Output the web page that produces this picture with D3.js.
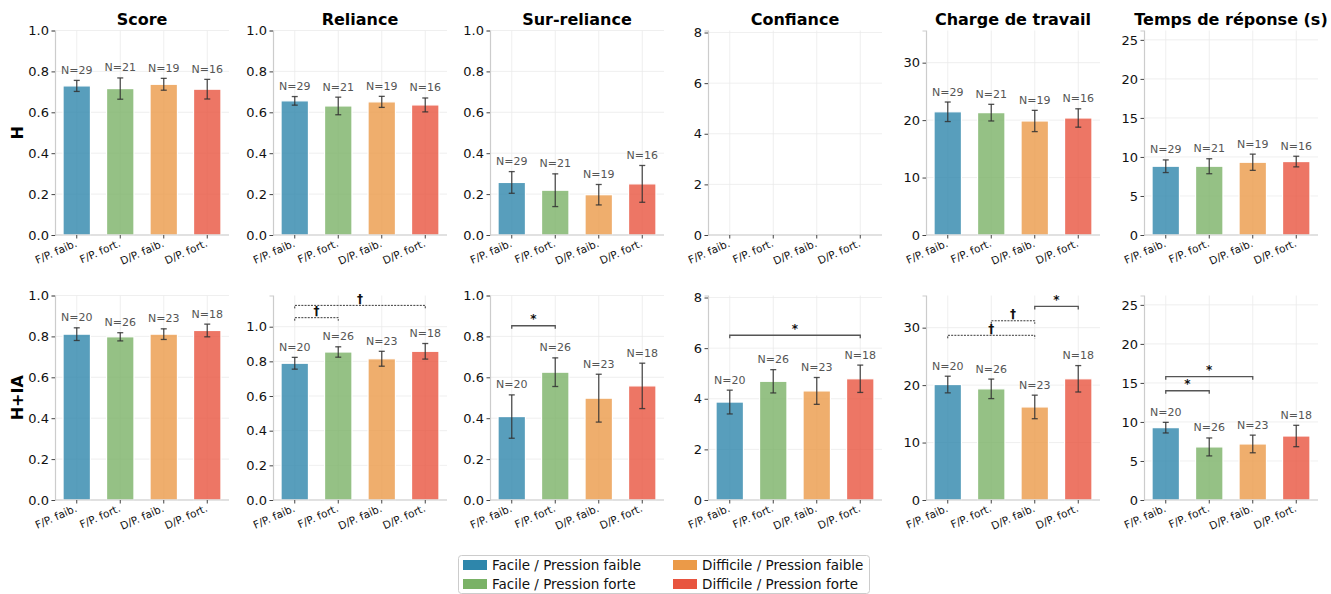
<!DOCTYPE html>
<html><head><meta charset="utf-8">
<script src="https://cdn.jsdelivr.net/npm/d3@7"></script>
<style>body{margin:0;background:#fff}svg{display:block;font-family:"DejaVu Sans",sans-serif}</style>
</head><body><svg id="c" width="1331" height="594"></svg>
<script>
const categories = ["F/P. faib.","F/P. fort.","D/P. faib.","D/P. fort."];
const legendLabels = ["Facile / Pression faible","Facile / Pression forte","Difficile / Pression faible","Difficile / Pression forte"];
const colors = ["#2E86AB","#7AB266","#EB9A48","#E8543F"];
const metrics = ["Score","Reliance","Sur-reliance","Confiance","Charge de travail","Temps de réponse (s)"];
const rowLabels = ["H","H+IA"];
const nH = [29,21,19,16];
const nHIA = [20,26,23,18];

// H row
const hScore = [0.729,0.716,0.737,0.713], hScoreErr = [0.027,0.052,0.029,0.048];
const hReliance = [0.656,0.631,0.651,0.636], hRelianceErr = [0.021,0.043,0.027,0.034];
const hSur = [0.257,0.219,0.197,0.250], hSurErr = [0.053,0.080,0.050,0.090];
const hConf = null, hConfErr = null;
const hCharge = [21.45,21.3,19.85,20.37], hChargeErr = [1.7,1.45,1.85,1.6];
const hTemps = [8.81,8.81,9.32,9.41], hTempsErr = [0.81,0.96,1.04,0.68];
// H+IA row
const iScore = [0.811,0.798,0.811,0.829], iScoreErr = [0.031,0.020,0.026,0.031];
const iReliance = [0.789,0.854,0.815,0.858], iRelianceErr = [0.034,0.030,0.043,0.045];
const iSur = [0.408,0.625,0.498,0.558], iSurErr = [0.106,0.070,0.117,0.111];
const iConf = [3.87,4.69,4.31,4.79], iConfErr = [0.47,0.46,0.53,0.54];
const iCharge = [20.1,19.35,16.2,21.1], iChargeErr = [1.45,1.7,2.05,2.3];
const iTemps = [9.27,6.80,7.18,8.20], iTempsErr = [0.68,1.15,1.13,1.37];

// y-axis upper limits and ticks
const yMaxH = [1.0, 1.0, 1.0, 8.08, 35.6, 26.2];
const yMaxHIA = [1.0, 1.18, 1.0, 8.08, 35.6, 26.2];
const yTicks = [[0,0.2,0.4,0.6,0.8,1.0],[0,0.2,0.4,0.6,0.8,1.0],[0,0.2,0.4,0.6,0.8,1.0],[0,2,4,6,8],[0,10,20,30],[0,5,10,15,20,25]];
const yFmt = [".1f",".1f",".1f","d","d","d"];

// significance (pair a-b, bracket level in data units, label)
const sigReliance = [{a:0,b:1,level:1.052,label:"†"},{a:0,b:3,level:1.123,label:"†"}];
const sigSur = [{a:0,b:1,level:0.852,label:"*"}];
const sigConf = [{a:0,b:3,level:6.51,label:"*"}];
const sigCharge = [{a:0,b:2,level:28.67,label:"†"},{a:1,b:2,level:31.2,label:"†"},{a:2,b:3,level:33.7,label:"*"}];
const sigTemps = [{a:0,b:1,level:14.0,label:"*"},{a:0,b:2,level:15.8,label:"*"}];

const rows = [
  {n:nH, ymax:yMaxH, vals:[hScore,hReliance,hSur,hConf,hCharge,hTemps], errs:[hScoreErr,hRelianceErr,hSurErr,hConfErr,hChargeErr,hTempsErr], sig:[[],[],[],[],[],[]]},
  {n:nHIA, ymax:yMaxHIA, vals:[iScore,iReliance,iSur,iConf,iCharge,iTemps], errs:[iScoreErr,iRelianceErr,iSurErr,iConfErr,iChargeErr,iTempsErr], sig:[[],sigReliance,sigSur,sigConf,sigCharge,sigTemps]}
];

const svg = d3.select("#c");
const panelLeft = [55, 273, 490, 708, 926, 1144];
const panelW = 174;
const rowTop = [30.5, 295.5];
const rowH = 204.5;

rows.forEach((row, r) => {
  const top = rowTop[r], bottom = top + rowH;
  svg.append("text").attr("transform", `translate(23,${top + rowH/2}) rotate(-90)`)
    .attr("text-anchor","middle").attr("font-size",16).attr("font-weight","bold").text(rowLabels[r]);
  metrics.forEach((m, p) => {
    const left = panelLeft[p];
    const g = svg.append("g");
    const x = d3.scaleBand().domain(d3.range(categories.length)).range([left, left+panelW]).paddingInner(0.37).paddingOuter(0.185);
    const y = d3.scaleLinear().domain([0, row.ymax[p]]).range([bottom, top]);
    const cx = i => x(i) + x.bandwidth()/2;
    g.selectAll(".hg").data(yTicks[p]).join("line")
      .attr("x1", left).attr("x2", left+panelW).attr("y1", d=>y(d)).attr("y2", d=>y(d))
      .attr("stroke","#ebebeb").attr("stroke-width",0.8);
    g.selectAll(".vg").data(d3.range(categories.length)).join("line")
      .attr("x1", cx).attr("x2", cx).attr("y1", top).attr("y2", bottom)
      .attr("stroke","#ebebeb").attr("stroke-width",0.8);
    if (r === 0) {
      svg.append("text").attr("x", left + panelW/2).attr("y", 25).attr("text-anchor","middle")
        .attr("font-size",16).attr("font-weight","bold").text(m);
    }
    const vals = row.vals[p], errs = row.errs[p];
    if (vals) {
      const idx = d3.range(vals.length);
      g.selectAll(".bar").data(idx).join("rect")
        .attr("x", i => x(i)).attr("width", x.bandwidth())
        .attr("y", i => y(vals[i])).attr("height", i => y(0) - y(vals[i]))
        .attr("fill", i => colors[i]).attr("fill-opacity",0.8)
        .attr("stroke","#fff").attr("stroke-width",1.2);
      const eg = g.append("g").attr("stroke","#333").attr("stroke-opacity",0.85).attr("stroke-width",1.3);
      idx.forEach(i => {
        const y1 = y(vals[i]+errs[i]), y2 = y(vals[i]-errs[i]);
        eg.append("line").attr("x1",cx(i)).attr("x2",cx(i)).attr("y1",y1).attr("y2",y2);
        eg.append("line").attr("x1",cx(i)-3).attr("x2",cx(i)+3).attr("y1",y1).attr("y2",y1);
        eg.append("line").attr("x1",cx(i)-3).attr("x2",cx(i)+3).attr("y1",y2).attr("y2",y2);
      });
      g.selectAll(".nl").data(idx).join("text")
        .attr("x", cx).attr("y", i => y(vals[i]+errs[i]) - 6.5)
        .attr("text-anchor","middle").attr("font-size",11).attr("fill","#555")
        .text(i => "N=" + row.n[i]);
    }
    row.sig[p].forEach(s => {
      const dashed = s.label === "†";
      const yy = y(s.level);
      const col = dashed ? "#222" : "#555";
      g.append("path")
        .attr("d", `M${cx(s.a)},${yy+3}V${yy}H${cx(s.b)}V${yy+3}`)
        .attr("fill","none").attr("stroke",col).attr("stroke-width", dashed ? 0.9 : 1.3)
        .attr("stroke-dasharray", dashed ? "2,1.2" : null);
      g.append("text").attr("x",(cx(s.a)+cx(s.b))/2).attr("y", yy - 2.5)
        .attr("text-anchor","middle").attr("font-size",12).attr("font-weight","bold").attr("fill","#111")
        .text(s.label);
    });
    const ya = d3.axisLeft(y).tickValues(yTicks[p]).tickFormat(d3.format(yFmt[p])).tickSize(3.5).tickPadding(2.5);
    const yg = g.append("g").attr("transform",`translate(${left},0)`).call(ya);
    yg.select(".domain").attr("stroke","#ccc").attr("stroke-width",1.2);
    yg.selectAll(".tick line").attr("stroke","#444");
    yg.selectAll(".tick text").attr("font-size",13).attr("fill","#111").attr("font-family","DejaVu Sans");
    const xa = d3.axisBottom(x).tickSize(3.5).tickFormat(i => categories[i]);
    const xg = g.append("g").attr("transform",`translate(0,${bottom})`).call(xa);
    xg.select(".domain").attr("d", `M${left},0H${left+panelW}`).attr("stroke","#ccc").attr("stroke-width",1.2);
    xg.selectAll(".tick line").attr("stroke","#444");
    xg.selectAll(".tick text").attr("font-size",10.6).attr("fill","#111").attr("font-family","DejaVu Sans")
      .attr("text-anchor","end").attr("y",0).attr("dy",0)
      .attr("transform","translate(1,11) rotate(-24)");
  });
});

const lg = svg.append("g");
lg.append("rect").attr("x",458.5).attr("y",555.5).attr("width",411).attr("height",38).attr("rx",3)
  .attr("fill","#fff").attr("stroke","#ccc");
const lx = [463, 673], ly = [560, 579];
legendLabels.forEach((t,i) => {
  const col = Math.floor(i/2), rw = i%2;
  lg.append("rect").attr("x",lx[col]).attr("y",ly[rw]).attr("width",24).attr("height",10)
    .attr("fill",colors[i]);
  lg.append("text").attr("x",lx[col]+29).attr("y",ly[rw]+10).attr("font-size",13.5).attr("fill","#111").text(t);
});
</script></body></html>
